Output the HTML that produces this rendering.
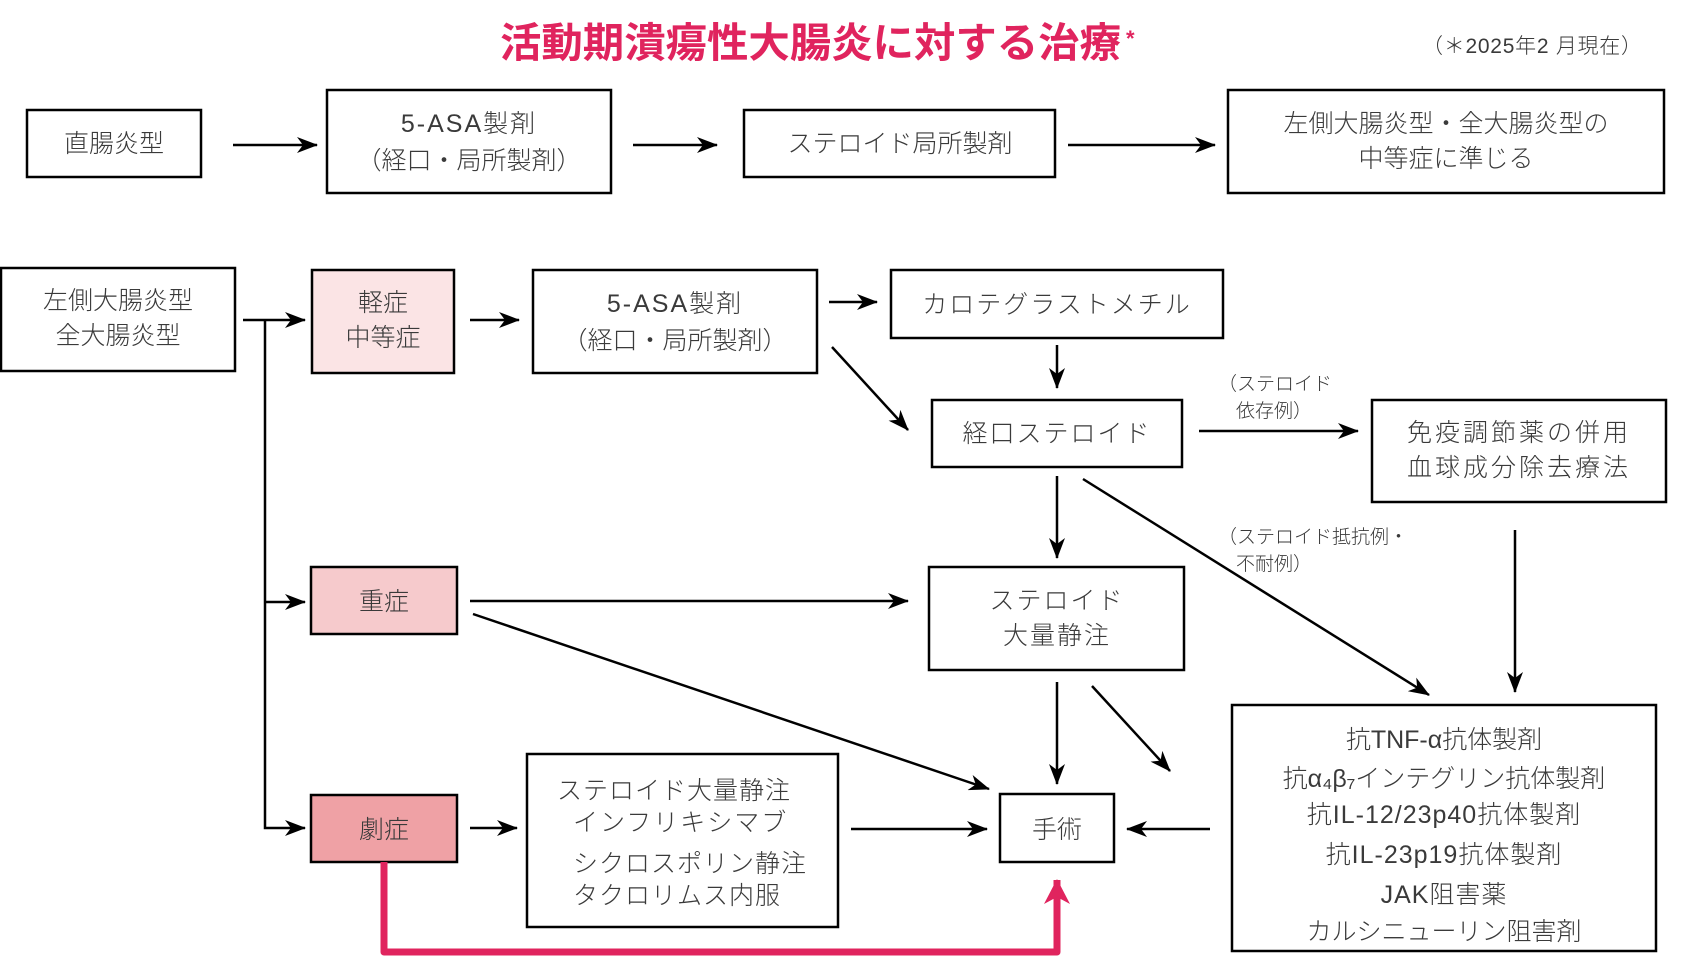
<!DOCTYPE html>
<html><head><meta charset="utf-8"><style>
html,body{margin:0;padding:0;background:#fff;}
svg{display:block;}
text{font-family:"Liberation Sans","Noto Sans CJK JP",sans-serif;fill:#3a3a3a;font-weight:300;}
</style></head><body>
<svg width="1683" height="963" viewBox="0 0 1683 963" xmlns="http://www.w3.org/2000/svg">
<defs>
<marker id="a" markerWidth="22" markerHeight="16" refX="20" refY="8" orient="auto" markerUnits="userSpaceOnUse">
<path d="M0,0 L21,8 L0,16 L6,8 z" fill="#000"/></marker>
<marker id="r" markerWidth="26" markerHeight="26" refX="24" refY="13" orient="auto" markerUnits="userSpaceOnUse">
<path d="M0,0 L25,13 L0,26 L7,13 z" fill="#e0245e"/></marker>
</defs>

<text x="500" y="57" textLength="621" lengthAdjust="spacingAndGlyphs" style="font-size:41px;font-weight:700;fill:#e0245e">活動期潰瘍性大腸炎に対する治療</text>
<text x="1126" y="46" style="font-size:22px;font-weight:700;fill:#e0245e">*</text>
<text x="1422" y="53" textLength="220" style="font-size:21px">（＊2025年2 月現在）</text>

<g fill="none" stroke="#000" stroke-width="2.5">
<rect x="27" y="110" width="174" height="67"/>
<rect x="327" y="90" width="284" height="103"/>
<rect x="744" y="110" width="311" height="67"/>
<rect x="1228" y="90" width="436" height="103"/>
<rect x="1" y="268" width="234" height="103"/>
<rect x="312" y="270" width="142" height="103" fill="#fbe4e5"/>
<rect x="533" y="270" width="284" height="103"/>
<rect x="891" y="270" width="332" height="68"/>
<rect x="932" y="400" width="250" height="67"/>
<rect x="1372" y="400" width="294" height="102"/>
<rect x="311" y="567" width="146" height="67" fill="#f6cacc"/>
<rect x="929" y="567" width="255" height="103"/>
<rect x="311" y="795" width="146" height="67" fill="#efa1a5"/>
<rect x="527" y="754" width="311" height="173"/>
<rect x="1000" y="794" width="114" height="68"/>
<rect x="1232" y="705" width="424" height="246"/>
</g>

<g fill="none" stroke="#000" stroke-width="2.5">
<line x1="233" y1="145" x2="317" y2="145" marker-end="url(#a)"/>
<line x1="633" y1="145" x2="717" y2="145" marker-end="url(#a)"/>
<line x1="1068" y1="145" x2="1215" y2="145" marker-end="url(#a)"/>
<line x1="243" y1="320" x2="305" y2="320" marker-end="url(#a)"/>
<polyline points="265,320 265,828 305,828" marker-end="url(#a)"/>
<line x1="265" y1="602" x2="305" y2="602" marker-end="url(#a)"/>
<line x1="470" y1="320" x2="519" y2="320" marker-end="url(#a)"/>
<line x1="829" y1="302" x2="877" y2="302" marker-end="url(#a)"/>
<line x1="1057" y1="345" x2="1057" y2="388" marker-end="url(#a)"/>
<line x1="832" y1="347" x2="908" y2="430" marker-end="url(#a)"/>
<line x1="1199" y1="431" x2="1358" y2="431" marker-end="url(#a)"/>
<line x1="1057" y1="476" x2="1057" y2="558" marker-end="url(#a)"/>
<line x1="1083" y1="479" x2="1429" y2="695" marker-end="url(#a)"/>
<line x1="1515" y1="530" x2="1515" y2="692" marker-end="url(#a)"/>
<line x1="470" y1="601" x2="908" y2="601" marker-end="url(#a)"/>
<line x1="473" y1="614" x2="989" y2="789" marker-end="url(#a)"/>
<line x1="1057" y1="682" x2="1057" y2="784" marker-end="url(#a)"/>
<line x1="1092" y1="686" x2="1170" y2="771" marker-end="url(#a)"/>
<line x1="1210" y1="829" x2="1127" y2="829" marker-end="url(#a)"/>
<line x1="851" y1="829" x2="987" y2="829" marker-end="url(#a)"/>
<line x1="470" y1="828" x2="517" y2="828" marker-end="url(#a)"/>
</g>
<polyline points="384,862 384,952 1057,952 1057,880" fill="none" stroke="#e0245e" stroke-width="7" stroke-linejoin="round" marker-end="url(#r)"/>

<g style="font-size:25px" text-anchor="middle">
<text x="114" y="152">直腸炎型</text>
<text x="469" y="132" letter-spacing="2">5-ASA製剤</text>
<text x="469" y="169">（経口・局所製剤）</text>
<text x="900" y="152">ステロイド局所製剤</text>
<text x="1446" y="132">左側大腸炎型・全大腸炎型の</text>
<text x="1446" y="167">中等症に準じる</text>
<text x="118" y="309">左側大腸炎型</text>
<text x="118" y="344">全大腸炎型</text>
<text x="383" y="311">軽症</text>
<text x="383" y="346">中等症</text>
<text x="675" y="312" letter-spacing="2">5-ASA製剤</text>
<text x="675" y="349">（経口・局所製剤）</text>
<text x="1057" y="313" letter-spacing="2">カロテグラストメチル</text>
<text x="1057" y="442" letter-spacing="2">経口ステロイド</text>
<text x="1519" y="441" letter-spacing="3">免疫調節薬の併用</text>
<text x="1519" y="476" letter-spacing="3">血球成分除去療法</text>
<text x="384" y="610">重症</text>
<text x="1057" y="609" letter-spacing="2">ステロイド</text>
<text x="1057" y="644" letter-spacing="2">大量静注</text>
<text x="384" y="838">劇症</text>
<text x="1057" y="838">手術</text>
<text x="1444" y="748">抗TNF-α抗体製剤</text>
<text x="1444" y="787">抗α₄β₇インテグリン抗体製剤</text>
<text x="1444" y="823" letter-spacing="1">抗IL-12/23p40抗体製剤</text>
<text x="1444" y="863" letter-spacing="1">抗IL-23p19抗体製剤</text>
<text x="1444" y="903" letter-spacing="1">JAK阻害薬</text>
<text x="1444" y="940">カルシニューリン阻害剤</text>
</g>
<g style="font-size:25px">
<text x="557" y="799" letter-spacing="1">ステロイド大量静注</text>
<text x="573" y="831" letter-spacing="2">インフリキシマブ</text>
<text x="573" y="872" letter-spacing="1">シクロスポリン静注</text>
<text x="573" y="904" letter-spacing="1">タクロリムス内服</text>
</g>
<g style="font-size:19px">
<text x="1218" y="390">（ステロイド</text>
<text x="1236" y="417">依存例）</text>
<text x="1218" y="543">（ステロイド抵抗例・</text>
<text x="1236" y="570">不耐例）</text>
</g>
</svg>
</body></html>
